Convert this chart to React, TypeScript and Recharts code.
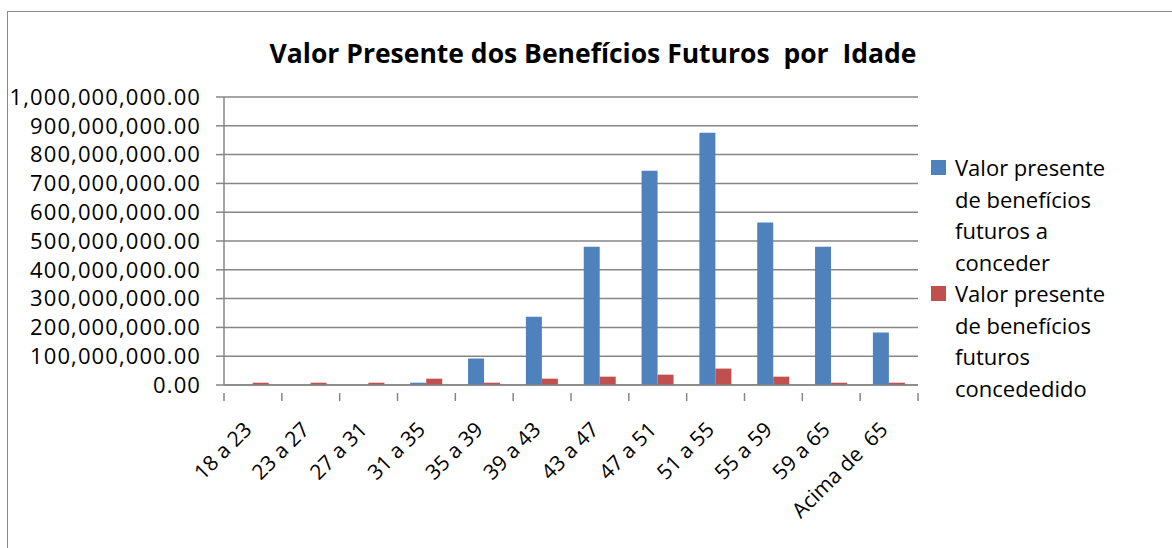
import { BarChart, Bar, XAxis, YAxis, CartesianGrid } from "recharts";

const categorias = [
  "18 a 23", "23 a 27", "27 a 31", "31 a 35", "35 a 39", "39 a 43",
  "43 a 47", "47 a 51", "51 a 55", "55 a 59", "59 a 65", "Acima de  65",
];
const aConceder = [0, 0, 0, 8e6, 92e6, 237e6, 480e6, 744e6, 876e6, 564e6, 480e6, 182e6];
const concedido = [8e6, 8e6, 8e6, 22e6, 8e6, 22e6, 29e6, 36e6, 57e6, 29e6, 8e6, 8e6];
const yTicks = [0, 1e8, 2e8, 3e8, 4e8, 5e8, 6e8, 7e8, 8e8, 9e8, 1e9];

const series = [
  { key: "a", cor: "#4F81BD", linhas: ["Valor presente", "de benefícios", "futuros a", "conceder"] },
  { key: "b", cor: "#C0504D", linhas: ["Valor presente", "de benefícios", "futuros", "concededido"] },
];

const data = categorias.map((c, i) => ({ faixa: c, a: aConceder[i], b: concedido[i] }));

const FONT = "'Open Sans', Lato, sans-serif";
const GRID = "#868686";
const W = 1172;
const H = 548;
const PLOT_L = 224;
const PLOT_R = 918;
const PLOT_B = 385;
const band = (PLOT_R - PLOT_L) / categorias.length;

const fmt = (v: number) =>
  v.toLocaleString("en-US", { minimumFractionDigits: 2, maximumFractionDigits: 2 });

function XTick(props: any) {
  const { x, y, payload, index } = props;
  return (
    <g>
      <line x1={x - band / 2} x2={x - band / 2} y1={y} y2={y + 8} stroke={GRID} strokeWidth={1.5} />
      {index === categorias.length - 1 && (
        <line x1={x + band / 2} x2={x + band / 2} y1={y} y2={y + 8} stroke={GRID} strokeWidth={1.5} />
      )}
      <text
        x={x}
        y={y + 38}
        textAnchor="end"
        transform={`rotate(-45, ${x}, ${y + 38})`}
        fontFamily={FONT}
        fontSize={21}
        fill="#000"
        style={{ whiteSpace: "pre" }}
      >
        {payload.value}
      </text>
    </g>
  );
}

export default function App() {
  return (
    <div style={{ position: "absolute", left: 0, top: 0, width: W, height: H, background: "#fff", overflow: "hidden" }}>
      <div
        style={{
          position: "absolute",
          left: 7,
          top: 11,
          width: W,
          height: H,
          border: "1.5px solid #8a8a8a",
        }}
      />
      <div
        style={{
          position: "absolute",
          left: 243,
          width: 700,
          top: 35,
          textAlign: "center",
          fontFamily: FONT,
          fontWeight: "bold",
          fontSize: 26.5,
          whiteSpace: "pre",
          color: "#000",
        }}
      >
        {"Valor Presente dos Benefícios Futuros  por  Idade"}
      </div>
      <BarChart
        width={W}
        height={H}
        data={data}
        margin={{ top: 97, right: W - PLOT_R, bottom: 0, left: 0 }}
        barCategoryGap="22%"
        barGap={0}
        style={{ position: "absolute", left: 0, top: 0 }}
      >
        <CartesianGrid vertical={false} stroke={GRID} strokeWidth={1.5} />
        <XAxis
          dataKey="faixa"
          height={H - PLOT_B}
          interval={0}
          tickLine={false}
          axisLine={{ stroke: GRID, strokeWidth: 1.5 }}
          tick={<XTick />}
        />
        <YAxis
          width={PLOT_L}
          domain={[0, 1e9]}
          ticks={yTicks}
          interval={0}
          tickFormatter={fmt}
          tickSize={8}
          tickMargin={15}
          tickLine={{ stroke: GRID, strokeWidth: 1.5 }}
          axisLine={{ stroke: GRID, strokeWidth: 1.5 }}
          tick={{ fontFamily: FONT, fontSize: 22, fill: "#000", letterSpacing: 1.1 }}
        />
        {series.map((s) => (
          <Bar key={s.key} dataKey={s.key} fill={s.cor} isAnimationActive={false} />
        ))}
      </BarChart>
      <div
        style={{
          position: "absolute",
          left: 931,
          top: 152,
          fontFamily: FONT,
          fontSize: 22,
          lineHeight: "31.5px",
          color: "#000",
        }}
      >
        {series.map((s) => (
          <div key={s.key} style={{ display: "flex", alignItems: "flex-start" }}>
            <span
              style={{ width: 15, height: 15, background: s.cor, marginTop: 8, marginRight: 9, flexShrink: 0 }}
            />
            <span>
              {s.linhas.map((l) => (
                <div key={l}>{l}</div>
              ))}
            </span>
          </div>
        ))}
      </div>
    </div>
  );
}
